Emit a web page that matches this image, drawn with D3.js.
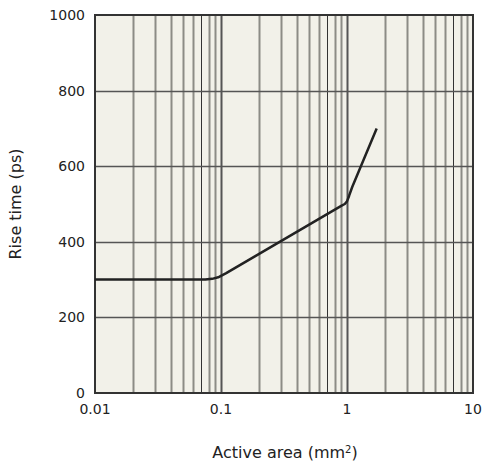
<!DOCTYPE html>
<html>
<head>
  <meta charset="utf-8">
  <script src="https://cdnjs.cloudflare.com/ajax/libs/d3/7.8.5/d3.min.js"></script>
  <style>
    body { margin: 0; background: #fff; }
    text { font-family: "DejaVu Sans", Verdana, sans-serif; fill: #222; }
  </style>
</head>
<body>
<script>
  // curve: [area mm2, rise time ps]
  var areaVals = [0.01, 0.075, 0.085, 0.095, 0.11, 0.9, 0.96, 1.0, 1.04, 1.1, 1.72];
  var riseVals = [300, 300, 302, 306, 317, 495, 500, 507, 522, 545, 700];
  var xTicks = [0.01, 0.1, 1, 10];
  var xTickLabels = ['0.01', '0.1', '1', '10'];
  var yTicks = [0, 200, 400, 600, 800, 1000];

  var W = 482, H = 463;
  var m = { left: 95, right: 9, top: 15, bottom: 70 };

  var svg = d3.select('body').append('svg')
    .attr('width', W)
    .attr('height', H);

  var x = d3.scaleLog().domain([0.01, 10]).range([m.left, W - m.right]);
  var y = d3.scaleLinear().domain([0, 1000]).range([H - m.bottom, m.top]);

  // plot background
  svg.append('rect')
    .attr('x', x(0.01)).attr('y', y(1000))
    .attr('width', x(10) - x(0.01))
    .attr('height', y(0) - y(1000))
    .attr('fill', '#f2f1e9');

  // minor log grid, 2..9 in each decade
  var minor = [];
  [0.01, 0.1, 1].forEach(function(d) {
    for (var k = 2; k <= 9; k++) minor.push(d * k);
  });
  svg.selectAll('.vgrid')
    .data(minor)
    .enter().append('line')
      .attr('class', 'vgrid')
      .attr('x1', function(d) { return Math.round(x(d)) + 0.5; })
      .attr('x2', function(d) { return Math.round(x(d)) + 0.5; })
      .attr('y1', y(0)).attr('y2', y(1000))
      .attr('stroke', function(d, i) { return i % 8 === 5 ? '#333' : '#8c8c86'; })
      .attr('stroke-width', function(d, i) { return i % 8 === 5 ? 1 : 2; });

  // decade lines
  svg.selectAll('.dgrid')
    .data([0.1, 1])
    .enter().append('line')
      .attr('x1', function(d) { return Math.round(x(d)) + 0.5; })
      .attr('x2', function(d) { return Math.round(x(d)) + 0.5; })
      .attr('y1', y(0)).attr('y2', y(1000))
      .attr('stroke', '#555')
      .attr('stroke-width', 2);

  // horizontal grid
  svg.selectAll('.hgrid')
    .data(yTicks.slice(1, -1))
    .enter().append('line')
      .attr('x1', x(0.01)).attr('x2', x(10))
      .attr('y1', function(d) { return Math.round(y(d)) + 0.5; })
      .attr('y2', function(d) { return Math.round(y(d)) + 0.5; })
      .attr('stroke', '#555')
      .attr('stroke-width', 1.5);

  // frame
  svg.append('rect')
    .attr('x', x(0.01)).attr('y', y(1000))
    .attr('width', x(10) - x(0.01))
    .attr('height', y(0) - y(1000))
    .attr('fill', 'none')
    .attr('stroke', '#333')
    .attr('stroke-width', 2);

  // curve
  var line = d3.line()
    .x(function(d) { return x(d[0]); })
    .y(function(d) { return y(d[1]); });

  svg.append('path')
    .datum(d3.zip(areaVals, riseVals))
    .attr('d', line)
    .attr('fill', 'none')
    .attr('stroke', '#222')
    .attr('stroke-width', 2.5)
    .attr('stroke-linejoin', 'round')
    .attr('stroke-linecap', 'butt');

  // tick labels
  svg.selectAll('.xlab')
    .data(xTicks)
    .enter().append('text')
      .attr('x', function(d) { return x(d); })
      .attr('y', y(0) + 21)
      .attr('text-anchor', 'middle')
      .attr('font-size', 14)
      .text(function(d, i) { return xTickLabels[i]; });

  svg.selectAll('.ylab')
    .data(yTicks)
    .enter().append('text')
      .attr('x', x(0.01) - 10)
      .attr('y', function(d) { return y(d); })
      .attr('dy', '0.35em')
      .attr('text-anchor', 'end')
      .attr('font-size', 14)
      .text(function(d) { return d; });

  // axis titles
  var xt = svg.append('text')
    .attr('x', 285).attr('y', 458)
    .attr('text-anchor', 'middle')
    .attr('font-size', 16);
  xt.append('tspan').text('Active area (mm');
  xt.append('tspan').attr('font-size', 10).attr('dy', -5).text('2');
  xt.append('tspan').attr('dy', 5).text(')');

  svg.append('text')
    .attr('transform', 'translate(21,' + y(500) + ') rotate(-90)')
    .attr('text-anchor', 'middle')
    .attr('font-size', 16)
    .text('Rise time (ps)');
</script>
</body>
</html>
